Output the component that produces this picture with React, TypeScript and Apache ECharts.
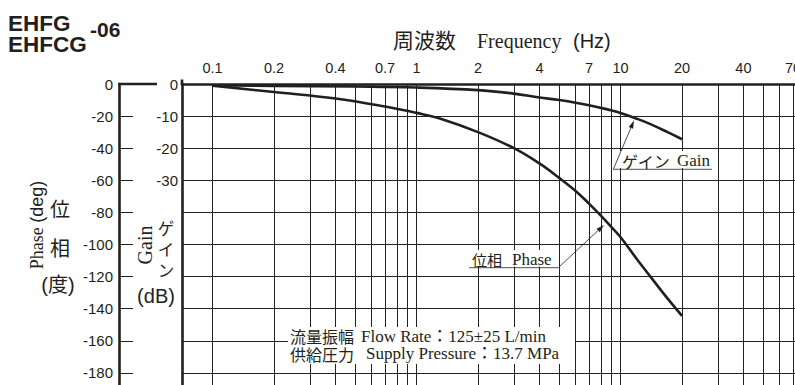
import React, { useEffect, useRef } from "react";
import * as echarts from "echarts";

// ---- data ----
const gainFreq = [0.1, 0.2, 0.5, 1, 2, 3, 4, 5, 7, 9, 10, 12, 14, 17, 20];
const gainDb = [-0.4, -0.6, -0.8, -1.1, -1.9, -3.0, -4.2, -5.0, -6.6, -8.2, -9.0, -10.8, -12.5, -15.0, -17.2];
const phaseFreq = [0.1, 0.2, 0.4, 0.7, 1, 1.3, 2, 3, 4, 5, 6, 7, 8, 9, 10, 12, 14, 16, 18, 20];
const phaseDeg = [-1, -5, -9, -14, -18, -21.5, -30, -40, -49.5, -58.5, -66.5, -74.5, -82, -89, -95.5, -109, -120, -129.5, -137.5, -144.5];
const gridFreqs = [0.1, 0.2, 0.3, 0.4, 0.5, 0.6, 0.7, 0.8, 0.9, 1, 2, 3, 4, 5, 6, 7, 8, 9, 10, 20, 30, 40, 50, 60, 70];
const freqTickLabels = ["0.1", "0.2", "0.4", "0.7", "1", "2", "4", "7", "10", "20", "40", "70"];
const phaseTickLabels = [0, -20, -40, -60, -80, -100, -120, -140, -160, -180];
const gainTickLabels = [0, -10, -20, -30];

const INK = "#231f20";
const GRIDC = "#222222";
const SANS = '"Liberation Sans", Arial, Helvetica, sans-serif';
const SERIF = '"Liberation Serif", "Noto Sans CJK JP", "Times New Roman", serif';
const CJK = '"Noto Sans CJK JP", "Noto Sans CJK SC", sans-serif';

function txt(text: string, x: number, y: number, font: string, extra: any = {}) {
  return {
    type: "text",
    x,
    y,
    z: 110,
    silent: true,
    rotation: extra.rotation || 0,
    style: {
      text,
      font,
      fill: INK,
      textAlign: extra.align || "left",
      align: extra.align || "left",
      textVerticalAlign: "middle",
      verticalAlign: "middle",
      rich: extra.rich,
    },
  };
}

function line(x1: number, y1: number, x2: number, y2: number, w: number) {
  return {
    type: "line",
    z: 110,
    silent: true,
    shape: { x1, y1, x2, y2 },
    style: { stroke: INK, lineWidth: w },
  };
}

function arrow(x1: number, y1: number, x2: number, y2: number) {
  const dx = x2 - x1;
  const dy = y2 - y1;
  const len = Math.sqrt(dx * dx + dy * dy);
  const ux = dx / len;
  const uy = dy / len;
  const hl = 8;
  const hw = 2.4;
  const bx = x2 - ux * hl;
  const by = y2 - uy * hl;
  return [
    line(x1, y1, bx, by, 0.8),
    {
      type: "polygon",
      z: 110,
      silent: true,
      shape: {
        points: [
          [x2, y2],
          [bx - uy * hw, by + ux * hw],
          [bx + uy * hw, by - ux * hw],
        ],
      },
      style: { fill: INK },
    },
  ];
}

function whiteBox(x: number, y: number, w: number, h: number) {
  return { type: "rect", z: 105, silent: true, shape: { x, y, width: w, height: h }, style: { fill: "#ffffff" } };
}

export default function App() {
  const ref = useRef<HTMLDivElement>(null);

  useEffect(() => {
    if (!ref.current) return;
    const chart = echarts.init(ref.current, undefined, { renderer: "svg" });

    const xMin = Math.pow(10, (182 - 416.6) / 204);
    const xMax = Math.pow(10, (795 - 416.6) / 204);

    const graphic: any[] = [
      // title
      txt("EHFG", 8, 23.5, `bold 22.5px ${SANS}`),
      txt("EHFCG", 8, 44.5, `bold 22.5px ${SANS}`),
      txt("-06", 90, 29.5, `bold 21px ${SANS}`),
      // frequency axis name
      txt("周波数", 393, 38.5, `21px ${CJK}`),
      txt("Frequency", 477, 40.5, `20px ${SERIF}`),
      txt("(Hz)", 573, 40.5, `20px ${SANS}`),
      // phase axis name
      txt("{a|Phase} {b|(deg)}", 36.5, 225, `18px ${SERIF}`, {
        align: "center",
        rotation: Math.PI / 2,
        rich: {
          a: { font: `18px ${SERIF}`, fill: INK },
          b: { font: `18px ${SANS}`, fill: INK },
        },
      }),
      txt("位", 60, 208, `20px ${CJK}`, { align: "center" }),
      txt("相", 60, 247, `20px ${CJK}`, { align: "center" }),
      txt("(度)", 58, 285, `20px ${SANS}, ${CJK}`, { align: "center" }),
      // gain axis name
      txt("Gain", 145, 245, `20px ${SERIF}`, { align: "center", rotation: Math.PI / 2 }),
      txt("ゲ", 166, 228, `16.5px ${CJK}`, { align: "center" }),
      txt("イ", 166, 249, `16.5px ${CJK}`, { align: "center" }),
      txt("ン", 166, 270, `16.5px ${CJK}`, { align: "center" }),
      txt("(dB)", 156, 296, `20px ${SANS}`, { align: "center" }),
      // axis decorations
      line(118, 84, 157, 84, 2.6),
      line(182, 79.5, 182, 85, 2.6),
      // gain annotation
      whiteBox(616, 151, 97, 17),
      txt("ゲイン", 622, 160.6, `16px ${CJK}`),
      txt("Gain", 677, 160.8, `17px ${SERIF}`),
      line(613.3, 169.3, 712, 169.3, 0.8),
      ...arrow(613.3, 169.3, 634, 120.5),
      // phase annotation
      whiteBox(468, 250, 90, 16.5),
      txt("位相", 472, 259.3, `15px ${CJK}`),
      txt("Phase", 512, 259, `17px ${SERIF}`),
      line(469, 267.7, 558.3, 267.7, 0.8),
      ...arrow(558.3, 267.7, 604, 225),
      // test conditions
      whiteBox(288, 327, 287, 37),
      txt("流量振幅", 290, 336, `16px ${CJK}`),
      txt("Flow Rate：125±25 L/min", 361, 336, `17px ${SERIF}`),
      txt("供給圧力", 290, 353.5, `16px ${CJK}`),
      txt("Supply Pressure：13.7 MPa", 366, 353.5, `17px ${SERIF}`),
    ];

    const option: any = {
      animation: false,
      backgroundColor: "#ffffff",
      grid: {
        left: 182,
        top: 84,
        width: 613,
        height: 321,
        containLabel: false,
        outerBoundsMode: "none",
      },
      xAxis: {
        type: "log",
        logBase: 10,
        position: "top",
        min: xMin,
        max: xMax,
        axisLine: { show: true, onZero: false, lineStyle: { color: INK, width: 2.6 } },
        axisTick: { show: false },
        axisLabel: { show: false },
        splitLine: { show: false },
        minorTick: { show: false },
        minorSplitLine: { show: false },
      },
      yAxis: [
        {
          type: "value",
          position: "left",
          offset: 63,
          min: -200,
          max: 0,
          interval: 20,
          axisLine: { show: true, onZero: false, lineStyle: { color: INK, width: 2.6 } },
          axisTick: { show: true, inside: true, length: 14, lineStyle: { color: INK, width: 1 } },
          axisLabel: {
            show: true,
            margin: 6,
            color: INK,
            fontSize: 15,
            fontFamily: SANS,
            formatter: (v: number) => (phaseTickLabels.indexOf(v) >= 0 ? String(v) : ""),
          },
          splitLine: { show: true, lineStyle: { color: GRIDC, width: 1 } },
        },
        {
          type: "value",
          position: "left",
          offset: 0,
          min: -100,
          max: 0,
          interval: 10,
          axisLine: { show: true, onZero: false, lineStyle: { color: INK, width: 2.6 } },
          axisTick: { show: false },
          axisLabel: {
            show: true,
            margin: 4,
            color: INK,
            fontSize: 15,
            fontFamily: SANS,
            formatter: (v: number) => (gainTickLabels.indexOf(v) >= 0 ? String(v) : ""),
          },
          splitLine: { show: false },
        },
      ],
      series: [
        {
          type: "line",
          name: "Phase",
          yAxisIndex: 0,
          z: 8,
          data: phaseFreq.map((f, i) => [f, phaseDeg[i]]),
          smooth: 0.4,
          symbol: "none",
          lineStyle: { color: INK, width: 2.6 },
          markLine: {
            silent: true,
            symbol: ["none", "none"],
            animation: false,
            z: 3,
            lineStyle: { color: GRIDC, width: 1, type: "solid" },
            label: { show: false },
            emphasis: { disabled: true },
            data: gridFreqs.map((f) => ({
              xAxis: f,
              label: {
                show: freqTickLabels.indexOf(String(f)) >= 0,
                position: "end",
                distance: 9,
                formatter: String(f),
                color: INK,
                fontSize: 14.5,
                fontFamily: SANS,
              },
            })),
          },
        },
        {
          type: "line",
          name: "Gain",
          yAxisIndex: 1,
          z: 8,
          data: gainFreq.map((f, i) => [f, gainDb[i]]),
          smooth: 0.4,
          symbol: "none",
          lineStyle: { color: INK, width: 2.6 },
        },
      ],
      graphic,
    };

    chart.setOption(option);
    return () => {
      chart.dispose();
    };
  }, []);

  return (
    <div
      ref={ref}
      style={{ position: "absolute", left: 0, top: 0, width: 795, height: 385, background: "#fff" }}
    />
  );
}
